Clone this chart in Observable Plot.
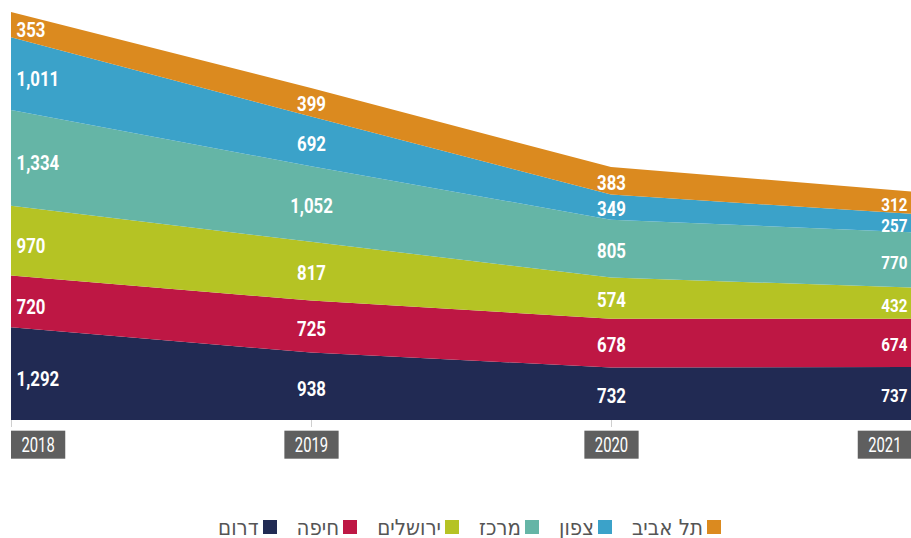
<!DOCTYPE html>
<html><head><meta charset="utf-8">
<script src="https://cdn.jsdelivr.net/npm/d3@7"></script>
<script src="https://cdn.jsdelivr.net/npm/@observablehq/plot@0.6"></script>
<style>
body{margin:0;background:#fff;}
#chart{width:911px;height:470px;}
.legend{direction:rtl;display:flex;justify-content:center;align-items:center;width:911px;height:26px;padding-left:28px;box-sizing:border-box;margin-top:44px;font-family:"DejaVu Sans Condensed","DejaVu Sans",sans-serif;font-stretch:condensed;font-size:22px;color:#555;}
.legend .item{display:flex;align-items:center;margin-left:20px;}
.legend .item:last-child{margin-left:0;}
.legend .sw{width:14px;height:14px;margin-left:4px;}
</style></head><body><div id="chart"></div><div class="legend" id="legend"></div>
<script>
const years=[2018,2019,2020,2021];
const regions=["דרום","חיפה","ירושלים","מרכז","צפון","תל אביב"];
const colors=["#212a53","#be1744","#b5c324","#65b5a6","#3ba2c9","#db8a1f"];
const south=[1292,938,732,737];
const haifa=[720,725,678,674];
const jerusalem=[970,817,574,432];
const center=[1334,1052,805,770];
const north=[1011,692,349,257];
const telaviv=[353,399,383,312];
const series=[south,haifa,jerusalem,center,north,telaviv];

const data=[];
years.forEach((yr,i)=>regions.forEach((r,j)=>data.push({year:yr,region:r,value:series[j][i]})));

const fmt=d3.format(",");
const font='Roboto,"DejaVu Sans",sans-serif';
const first=years[0], last=years[years.length-1];
const labelMark=(filter,anchor,dx,dy,size)=>Plot.text(data,Plot.stackY({
  filter, x:"year", y:"value", z:"region", order:regions,
  text:d=>fmt(d.value), fill:"white", fontWeight:"bold", fontSize:size,
  textAnchor:anchor, dx, dy, fontFamily:font, className:"val"
}));
const yearMark=(filter,anchor,dx)=>Plot.text(years,{
  filter, x:d=>d, frameAnchor:"bottom", dy:31, text:d=>String(d),
  fill:"white", fontSize:20, textAnchor:anchor, dx, fontFamily:font, className:"yr"
});

const plot=Plot.plot({
  width:911, height:470,
  marginLeft:11, marginRight:0, marginTop:12, marginBottom:50,
  x:{domain:[first,last], axis:null},
  y:{domain:[0,5680], axis:null},
  color:{domain:regions, range:colors},
  style:{fontFamily:font, background:"white"},
  marks:[
    Plot.areaY(data,Plot.stackY({x:"year", y:"value", z:"region", fill:"region", order:regions})),
    Plot.axisX({ticks:years, tickSize:7, tickFormat:()=> "", label:null, stroke:"#cfcfcf", tickPadding:0}),
    labelMark(d=>d.year===first,"start",5,5,21),
    labelMark(d=>d.year!==first&&d.year!==last,"middle",0,2,21),
    labelMark(d=>d.year===last,"end",-4,2,19),
    yearMark(d=>d===first,"start",10),
    yearMark(d=>d!==first&&d!==last,"middle",0),
    yearMark(d=>d===last,"end",-10)
  ]
});
document.getElementById("chart").appendChild(plot);

// condensed look: squeeze text horizontally around its anchor
const SV=0.8, SY=0.74;
d3.select(plot).selectAll("g.val text").each(function(){
  this.setAttribute("transform",(this.getAttribute("transform")||"")+` scale(${SV},1)`);
});
d3.select(plot).selectAll("g.yr text").each(function(){
  this.setAttribute("transform",(this.getAttribute("transform")||"")+` scale(${SY},1)`);
});

// grey boxes behind the year labels, sized from the rendered text
d3.select(plot).selectAll("g.yr text").each(function(){
  const b=this.getBBox();
  const tr=this.getAttribute("transform");
  const padX=10.5/SY;
  const rect=document.createElementNS("http://www.w3.org/2000/svg","rect");
  rect.setAttribute("x",b.x-padX); rect.setAttribute("width",b.width+2*padX);
  const cy=b.y+b.height/2;
  rect.setAttribute("y",cy-14); rect.setAttribute("height",28);
  rect.setAttribute("fill","#5f5f5f");
  if(tr) rect.setAttribute("transform",tr);
  this.parentNode.insertBefore(rect,this);
});

const lg=document.getElementById("legend");
[...regions].reverse().forEach((r)=>{
  const i=regions.indexOf(r);
  const it=document.createElement("div"); it.className="item";
  const sw=document.createElement("span"); sw.className="sw"; sw.style.background=colors[i];
  const tx=document.createElement("span"); tx.textContent=r;
  it.appendChild(sw); it.appendChild(tx); lg.appendChild(it);
});
</script></body></html>
